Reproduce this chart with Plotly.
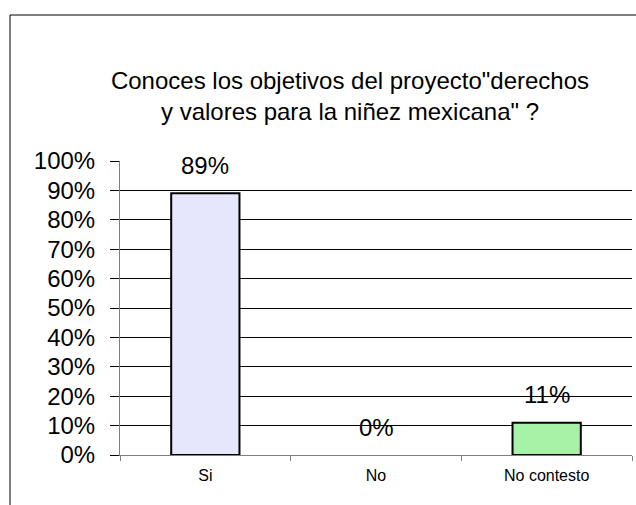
import plotly.graph_objects as go

categories = ["Si", "No", "No contesto"]
values_pct = [89, 0, 11]
bar_colors = ["#e6e6fc", "#ffffff", "#a6f2a6"]
title_lines = ['Conoces los objetivos del proyecto"derechos', 'y valores para la niñez mexicana" ?']

FONT = "Liberation Sans, Arial, sans-serif"
W, H = 636, 505
L, R, T, B = 120, 4, 161, 50
pw, ph = W - L - R, H - T - B

fig = go.Figure()
fig.add_trace(go.Bar(
    x=categories,
    y=[v / 100 for v in values_pct],
    marker=dict(color=bar_colors,
                line=dict(color="black", width=[2 if v > 0 else 0 for v in values_pct])),
    showlegend=False,
    hoverinfo="skip",
))

for c, v in zip(categories, values_pct):
    fig.add_annotation(x=c, y=v / 100, text=f"{v}%", showarrow=False,
                       yanchor="middle", yshift=28,
                       font=dict(family=FONT, size=24, color="black"))

# outer chart frame (cropped on right/bottom)
fig.add_shape(type="rect", xref="paper", yref="paper",
              x0=(10 - L) / pw, x1=(W + 5 - L) / pw,
              y0=-(B + 5) / ph, y1=(H - 15 - B) / ph,
              line=dict(color="black", width=1), fillcolor="rgba(0,0,0,0)", layer="below")

fig.update_layout(
    width=W, height=H,
    margin=dict(l=L, r=R, t=T, b=B, autoexpand=False),
    paper_bgcolor="white", plot_bgcolor="white",
    bargap=0.6,
    title=dict(text="<br>".join(title_lines), x=350 / W, xanchor="center",
               y=1 - 89 / H, yanchor="middle", yref="container",
               font=dict(family=FONT, size=24, color="black")),
    font=dict(family=FONT, color="black"),
)
fig.update_yaxes(range=[0, 1], dtick=0.1, tickformat=".0%",
                 showgrid=True, gridcolor="black", gridwidth=1,
                 ticks="outside", ticklen=9, tickcolor="black", tickwidth=1,
                 ticklabelstandoff=10,
                 showline=True, linecolor="#808080", linewidth=1,
                 zeroline=False, tickfont=dict(family=FONT, size=24, color="black"))
fig.update_xaxes(showline=True, linecolor="#808080", linewidth=1,
                 ticks="outside", tickson="boundaries", ticklen=5, tickcolor="#808080",
                 ticklabelstandoff=6,
                 tickfont=dict(family=FONT, size=16, color="black"))

fig.write_html("out.html", config={"displayModeBar": False},
               post_script="document.body.style.margin='0';")
